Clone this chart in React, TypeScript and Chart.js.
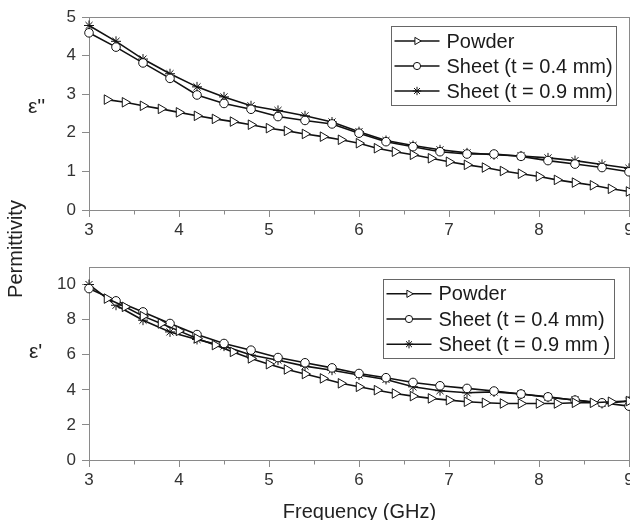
import React, { useEffect, useRef } from 'react';
import { Chart, registerables } from 'chart.js';

Chart.register(...registerables);

const FONT = '"Liberation Sans", Arial, Helvetica, sans-serif';

// Frequency (GHz)
const freqSheet = [3.0, 3.3, 3.6, 3.9, 4.2, 4.5, 4.8, 5.1, 5.4, 5.7, 6.0, 6.3, 6.6, 6.9, 7.2, 7.5, 7.8, 8.1, 8.4, 8.7, 9.0];
const freqPowder = [3.2, 3.4, 3.6, 3.8, 4.0, 4.2, 4.4, 4.6, 4.8, 5.0, 5.2, 5.4, 5.6, 5.8, 6.0, 6.2, 6.4, 6.6, 6.8, 7.0, 7.2, 7.4, 7.6, 7.8, 8.0, 8.2, 8.4, 8.6, 8.8, 9.0];

// ε'' (imaginary part)
const lossPowder = [2.86, 2.79, 2.70, 2.62, 2.53, 2.44, 2.36, 2.29, 2.21, 2.12, 2.05, 1.97, 1.90, 1.82, 1.73, 1.60, 1.51, 1.43, 1.34, 1.25, 1.17, 1.10, 1.01, 0.94, 0.87, 0.78, 0.71, 0.64, 0.55, 0.48];
const lossSheet04 = [4.59, 4.22, 3.81, 3.41, 2.98, 2.76, 2.61, 2.42, 2.32, 2.23, 1.99, 1.77, 1.64, 1.51, 1.45, 1.45, 1.39, 1.28, 1.19, 1.10, 0.99];
const lossSheet09 = [4.78, 4.37, 3.91, 3.53, 3.19, 2.93, 2.70, 2.58, 2.44, 2.28, 2.03, 1.80, 1.67, 1.56, 1.48, 1.43, 1.40, 1.35, 1.28, 1.18, 1.08];

// ε' (real part)
const realPowder = [9.2, 8.73, 8.2, 7.78, 7.36, 6.93, 6.55, 6.16, 5.79, 5.46, 5.16, 4.9, 4.65, 4.37, 4.17, 3.98, 3.79, 3.64, 3.51, 3.41, 3.32, 3.26, 3.22, 3.22, 3.22, 3.22, 3.26, 3.26, 3.32, 3.36];
const realSheet04 = [9.77, 9.07, 8.44, 7.78, 7.15, 6.64, 6.26, 5.84, 5.54, 5.25, 4.93, 4.69, 4.42, 4.23, 4.08, 3.93, 3.76, 3.60, 3.41, 3.26, 3.07];
const realSheet09 = [10.0, 8.82, 7.97, 7.30, 6.87, 6.49, 5.98, 5.69, 5.35, 5.12, 4.84, 4.59, 4.17, 3.95, 3.83, 3.88, 3.76, 3.58, 3.42, 3.22, 3.35];

const labelsTop = ['Powder', 'Sheet (t = 0.4 mm)', 'Sheet (t = 0.9 mm)'];
const labelsBottom = ['Powder', 'Sheet (t = 0.4 mm)', 'Sheet (t = 0.9 mm )'];

const xMin = 3;
const xMax = 9;
const xStep = 1;
const topYMax = 5;
const topYStep = 1;
const bottomYMax = 11;
const bottomYStep = 2;

const LINE = '#111111';
const AXIS = '#8a8a8a';
const TICK_TEXT = '#333333';

const markerStyles = [
  { pointStyle: 'triangle', rotation: 90, radius: 5.5, legendRadius: 4.2 },
  { pointStyle: 'circle', rotation: 0, radius: 4.3, legendRadius: 3.6 },
  { pointStyle: 'star', rotation: 0, radius: 5, legendRadius: 4.2 },
];

function toPoints(xs: number[], ys: number[]) {
  return xs.map((x, i) => ({ x, y: ys[i] }));
}

function drawMarker(ctx: CanvasRenderingContext2D, style: string, x: number, y: number, r: number) {
  ctx.beginPath();
  if (style === 'triangle') {
    ctx.moveTo(x + r, y);
    ctx.lineTo(x - r * 0.5, y - r * 0.866);
    ctx.lineTo(x - r * 0.5, y + r * 0.866);
    ctx.closePath();
    ctx.fill();
    ctx.stroke();
  } else if (style === 'circle') {
    ctx.arc(x, y, r, 0, Math.PI * 2);
    ctx.fill();
    ctx.stroke();
  } else {
    for (let k = 0; k < 4; k++) {
      const a = (k * Math.PI) / 4;
      ctx.moveTo(x - Math.cos(a) * r, y - Math.sin(a) * r);
      ctx.lineTo(x + Math.cos(a) * r, y + Math.sin(a) * r);
    }
    ctx.stroke();
  }
}

const framePlugin = {
  id: 'frameMinor',
  beforeDatasetsDraw(chart: any) {
    const { ctx, chartArea: a } = chart;
    const xs = chart.scales.x;
    ctx.save();
    ctx.strokeStyle = AXIS;
    ctx.lineWidth = 1;
    ctx.strokeRect(Math.round(a.left) + 0.5, Math.round(a.top) + 0.5, Math.round(a.right - a.left), Math.round(a.bottom - a.top));
    ctx.beginPath();
    xs.ticks.forEach((t: any) => {
      const v = t.value + xStep / 2;
      if (v < xs.max) {
        const px = Math.round(xs.getPixelForValue(v)) + 0.5;
        ctx.moveTo(px, a.bottom);
        ctx.lineTo(px, a.bottom + 4.5);
      }
    });
    ctx.stroke();
    ctx.restore();
  },
};

const legendPlugin = {
  id: 'boxLegend',
  afterDatasetsDraw(chart: any, _args: any, opts: any) {
    const { ctx, chartArea: a } = chart;
    const ds = chart.data.datasets;
    ctx.save();
    ctx.font = `20px ${FONT}`;
    const textW = Math.max(...ds.map((d: any) => ctx.measureText(d.label).width));
    const padL = 3, lineLen = 45, gap = 7, padR = 4;
    const w = padL + lineLen + gap + textW + padR;
    const h = opts.padY * 2 + opts.rowH * (ds.length - 1);
    const x0 = Math.round(a.right - opts.right - w) + 0.5;
    const y0 = Math.round(a.top + opts.top) + 0.5;
    ctx.fillStyle = '#ffffff';
    ctx.fillRect(x0, y0, w, h);
    ctx.strokeStyle = '#666666';
    ctx.lineWidth = 1;
    ctx.strokeRect(x0, y0, Math.round(w), Math.round(h));
    ds.forEach((d: any, i: number) => {
      const cy = y0 + opts.padY + opts.rowH * i;
      const lx = x0 + padL;
      ctx.strokeStyle = LINE;
      ctx.lineWidth = 1.5;
      ctx.beginPath();
      ctx.moveTo(lx, cy);
      ctx.lineTo(lx + lineLen, cy);
      ctx.stroke();
      const m = markerStyles[i];
      ctx.fillStyle = '#ffffff';
      ctx.lineWidth = 1;
      drawMarker(ctx, m.pointStyle, lx + lineLen / 2, cy, m.legendRadius);
      ctx.fillStyle = '#1a1a1a';
      ctx.textBaseline = 'middle';
      ctx.textAlign = 'left';
      ctx.fillText(d.label, lx + lineLen + gap, cy + 1);
    });
    ctx.restore();
  },
};

function makeDatasets(labels: string[], powder: number[], s04: number[], s09: number[]) {
  const series = [toPoints(freqPowder, powder), toPoints(freqSheet, s04), toPoints(freqSheet, s09)];
  return series.map((data, i) => ({
    label: labels[i],
    data,
    borderColor: LINE,
    borderWidth: 1.6,
    backgroundColor: '#ffffff',
    pointStyle: markerStyles[i].pointStyle,
    pointRotation: markerStyles[i].rotation,
    pointRadius: markerStyles[i].radius,
    pointBorderColor: LINE,
    pointBackgroundColor: '#ffffff',
    pointBorderWidth: 1,
    tension: 0,
    fill: false,
    clip: false as any,
  }));
}

function makeConfig(datasets: any[], yMax: number, yStep: number, padTop: number, xHeight: number, legend: any): any {
  return {
    type: 'line',
    data: { datasets },
    plugins: [framePlugin, legendPlugin],
    options: {
      animation: false,
      responsive: false,
      events: [],
      layout: { autoPadding: false, padding: { top: padTop, right: 1, left: 0, bottom: 0 } },
      plugins: { legend: { display: false }, tooltip: { enabled: false }, boxLegend: legend },
      scales: {
        x: {
          type: 'linear',
          min: xMin,
          max: xMax,
          ticks: { stepSize: xStep, color: TICK_TEXT, font: { size: 17, family: FONT }, padding: 3, maxRotation: 0, autoSkip: false, includeBounds: false },
          grid: { drawOnChartArea: false, drawTicks: true, tickLength: 7, color: AXIS, lineWidth: 1 },
          border: { display: false },
          afterFit: (s: any) => {
            s.height = xHeight;
            s.paddingLeft = 0;
            s.paddingRight = 0;
          },
        },
        y: {
          type: 'linear',
          min: 0,
          max: yMax,
          ticks: { stepSize: yStep, color: TICK_TEXT, font: { size: 17, family: FONT }, padding: 6, includeBounds: false },
          grid: { drawOnChartArea: false, drawTicks: true, tickLength: 7, color: AXIS, lineWidth: 1 },
          border: { display: false },
          afterFit: (s: any) => {
            s.width = 89;
            s.paddingTop = 0;
            s.paddingBottom = 0;
          },
        },
      },
    },
  };
}

export default function App() {
  const topRef = useRef<HTMLCanvasElement>(null);
  const botRef = useRef<HTMLCanvasElement>(null);

  useEffect(() => {
    Chart.defaults.font.family = FONT;
    const c1 = new Chart(
      topRef.current as HTMLCanvasElement,
      makeConfig(makeDatasets(labelsTop, lossPowder, lossSheet04, lossSheet09), topYMax, topYStep, 17, 30, { right: 12.5, top: 9, padY: 14.5, rowH: 25 })
    );
    const c2 = new Chart(
      botRef.current as HTMLCanvasElement,
      makeConfig(makeDatasets(labelsBottom, realPowder, realSheet04, realSheet09), bottomYMax, bottomYStep, 27, 60, { right: 15, top: 11.5, padY: 14.3, rowH: 25.2 })
    );
    return () => {
      c1.destroy();
      c2.destroy();
    };
  }, []);

  const text: React.CSSProperties = { position: 'absolute', fontFamily: FONT, color: '#222', whiteSpace: 'nowrap', lineHeight: 1 };

  return (
    <div style={{ position: 'absolute', left: 0, top: 0, width: 630, height: 520, background: '#fff', overflow: 'hidden' }}>
      <canvas ref={topRef} width={630} height={240} style={{ position: 'absolute', left: 0, top: 0, width: 630, height: 240 }} />
      <canvas ref={botRef} width={630} height={280} style={{ position: 'absolute', left: 0, top: 240, width: 630, height: 280 }} />
      <div style={{ ...text, left: 28, top: 95, fontSize: 21 }}>ε''</div>
      <div style={{ ...text, left: 29, top: 340, fontSize: 21 }}>ε'</div>
      <div style={{ ...text, left: 15, top: 249, fontSize: 20, transform: 'translate(-50%, -50%) rotate(-90deg)' }}>Permittivity</div>
      <div style={{ ...text, left: 359.5, top: 501, fontSize: 20, transform: 'translateX(-50%)' }}>Frequency (GHz)</div>
    </div>
  );
}
